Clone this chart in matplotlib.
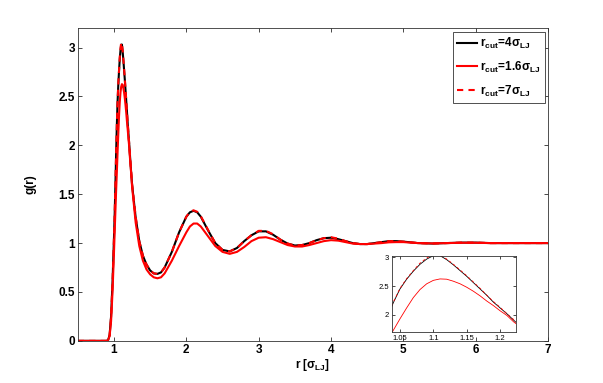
import matplotlib
matplotlib.use("Agg")
import matplotlib.pyplot as plt

plt.rcParams['font.family'] = ['Liberation Sans', 'DejaVu Sans']
plt.rcParams['mathtext.fontset'] = 'custom'
plt.rcParams['mathtext.rm'] = 'Liberation Sans:bold'
plt.rcParams['mathtext.it'] = 'Liberation Sans:bold'
plt.rcParams['mathtext.bf'] = 'Liberation Sans:bold'

# radial distance in units of sigma_LJ
r = [0.5, 0.9, 0.92, 0.94, 0.96, 0.98, 1.0, 1.01, 1.02, 1.03,
     1.04, 1.05, 1.06, 1.07, 1.08, 1.09, 1.10, 1.11, 1.12, 1.13,
     1.14, 1.15, 1.16, 1.17, 1.18, 1.19, 1.20, 1.21, 1.22, 1.23,
     1.25, 1.3, 1.35, 1.4, 1.45, 1.5, 1.55, 1.6, 1.65, 1.7,
     1.8, 1.9, 2.0, 2.05, 2.1, 2.15, 2.2, 2.3, 2.4, 2.5,
     2.6, 2.7, 2.8, 2.9, 3.0, 3.1, 3.2, 3.3, 3.4, 3.5,
     3.6, 3.7, 3.8, 3.9, 4.0, 4.1, 4.2, 4.3, 4.4, 4.5,
     4.6, 4.7, 4.8, 4.9, 5.0, 5.2, 5.4, 5.6, 5.8, 6.0,
     6.2, 6.5, 7.0]

g_rc4 = [0, 0, 0.01, 0.06, 0.25, 0.6, 1.05, 1.3, 1.6, 1.92,
         2.21, 2.45, 2.62, 2.76, 2.88, 2.97, 3.03, 3.03, 2.96, 2.87,
         2.77, 2.67, 2.56, 2.45, 2.34, 2.22, 2.12, 2.02, 1.91, 1.80,
         1.60, 1.26, 1.02, 0.87, 0.78, 0.72, 0.69, 0.685, 0.70, 0.75,
         0.91, 1.11, 1.27, 1.315, 1.33, 1.315, 1.27, 1.13, 1.0, 0.93,
         0.915, 0.95, 1.02, 1.08, 1.12, 1.12, 1.085, 1.035, 0.995, 0.975,
         0.98, 1.0, 1.03, 1.05, 1.055, 1.04, 1.02, 1.0, 0.99, 0.99,
         1.0, 1.01, 1.02, 1.02, 1.015, 1.0, 0.995, 1.0, 1.005, 1.005,
         1.0, 1.0, 1.0]

g_rc16 = [0, 0, 0.01, 0.05, 0.2, 0.5, 0.9, 1.12, 1.33, 1.54,
          1.73, 1.93, 2.12, 2.3, 2.44, 2.54, 2.6, 2.625, 2.62, 2.585,
          2.54, 2.48, 2.41, 2.33, 2.24, 2.16, 2.07, 1.99, 1.88, 1.79,
          1.58, 1.21, 0.97, 0.82, 0.73, 0.68, 0.65, 0.64, 0.65, 0.69,
          0.82, 0.97, 1.11, 1.17, 1.2, 1.2, 1.17, 1.07, 0.97, 0.91,
          0.89, 0.91, 0.96, 1.02, 1.055, 1.06, 1.04, 1.01, 0.98, 0.965,
          0.965, 0.98, 1.0, 1.02, 1.03, 1.025, 1.01, 0.995, 0.99, 0.99,
          0.995, 1.0, 1.008, 1.01, 1.01, 1.0, 0.997, 1.0, 1.003, 1.003,
          1.0, 1.0, 1.0]

g_rc7 = [0, 0, 0.01, 0.06, 0.25, 0.6, 1.05, 1.31, 1.61, 1.93,
         2.22, 2.46, 2.63, 2.77, 2.9, 2.99, 3.05, 3.04, 2.97, 2.88,
         2.78, 2.68, 2.57, 2.46, 2.34, 2.23, 2.13, 2.02, 1.92, 1.81,
         1.61, 1.27, 1.02, 0.87, 0.78, 0.72, 0.69, 0.685, 0.70, 0.75,
         0.91, 1.11, 1.27, 1.32, 1.335, 1.32, 1.275, 1.135, 1.0, 0.93,
         0.915, 0.95, 1.02, 1.08, 1.125, 1.125, 1.09, 1.035, 0.995, 0.975,
         0.98, 1.0, 1.03, 1.05, 1.06, 1.045, 1.02, 1.0, 0.99, 0.99,
         1.0, 1.01, 1.02, 1.02, 1.015, 1.0, 0.995, 1.0, 1.005, 1.005,
         1.0, 1.0, 1.0]

labels = [r'$\mathbf{r_{cut}\!=\!4\sigma_{LJ}}$',
          r'$\mathbf{r_{cut}\!=\!1.6\sigma_{LJ}}$',
          r'$\mathbf{r_{cut}\!=\!7\sigma_{LJ}}$']


def style_axes(ax, size, bold):
    ax.tick_params(direction='in', top=True, right=True, labelsize=size,
                   width=0.5, length=3, pad=2)
    for lbl in ax.get_xticklabels() + ax.get_yticklabels():
        lbl.set_fontweight('bold' if bold else 'normal')
    for s in ax.spines.values():
        s.set_linewidth(0.6)
        s.set_color('#333333')


fig = plt.figure(figsize=(6.03, 3.83), dpi=100)
ax = fig.add_axes([0.129, 0.110, 0.780, 0.817])

ax.plot(r, g_rc4, color='black', lw=1.5, label=labels[0])
ax.plot(r, g_rc16, color='red', lw=1.5, label=labels[1])
ax.plot(r, g_rc7, color='red', lw=1.5, ls=(0, (3, 2.5)), label=labels[2])

ax.set_xlim(0.5, 7)
ax.set_ylim(0, 3.2)
ax.set_xticks([1, 2, 3, 4, 5, 6, 7])
ax.set_yticks([0, 0.5, 1, 1.5, 2, 2.5, 3])
ax.set_yticklabels(['0', '0.5', '1', '1.5', '2', '2.5', '3'])
style_axes(ax, 8.5, True)
ax.set_xlabel(r'r [$\mathbf{\sigma_{LJ}}$]', fontsize=8.5, fontweight='bold', labelpad=1)
ax.set_ylabel('g(r)', fontsize=8.5, fontweight='bold', labelpad=16)

leg = ax.legend(loc='upper right', fontsize=8.5, handlelength=1.7,
                borderaxespad=0.3, fancybox=False, framealpha=1,
                edgecolor='#333333', borderpad=0.35, labelspacing=0.75,
                handletextpad=0.25)
leg.get_frame().set_linewidth(0.6)

# inset around the first peak
axin = fig.add_axes([0.650, 0.133, 0.206, 0.198])
axin.plot(r, g_rc4, color='black', lw=0.6)
axin.plot(r, g_rc16, color='red', lw=0.6)
axin.plot(r, g_rc7, color='red', lw=0.6, ls=(0, (3, 3)))
axin.set_xlim(1.038, 1.224)
axin.set_ylim(1.7, 3.02)
axin.set_xticks([1.05, 1.1, 1.15, 1.2])
axin.set_xticklabels(['1.05', '1.1', '1.15', '1.2'])
axin.set_yticks([2, 2.5, 3])
axin.set_yticklabels(['2', '2.5', '3'])
style_axes(axin, 5.5, False)
axin.tick_params(length=2)

fig.savefig('out.png', dpi=100)
